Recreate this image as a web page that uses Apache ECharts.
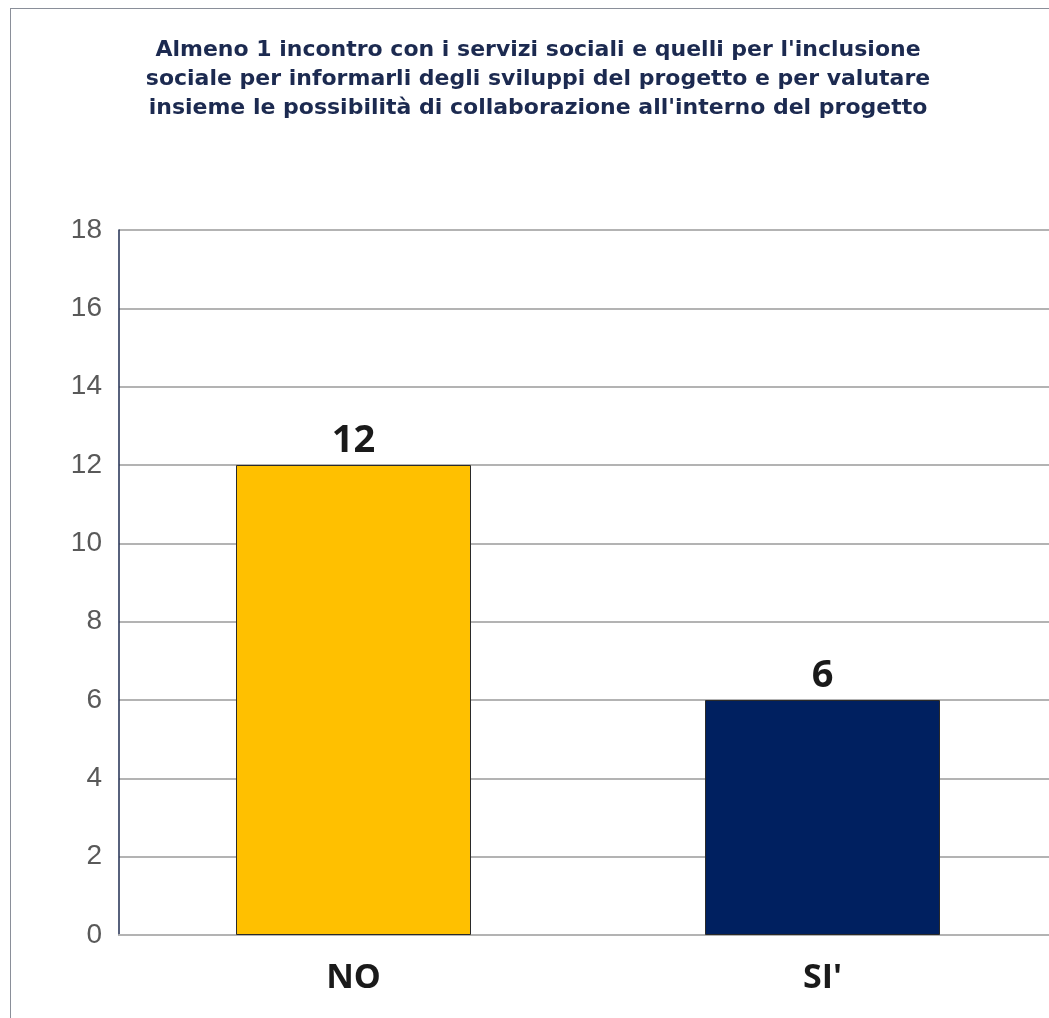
<!DOCTYPE html>
<html><head><meta charset="utf-8">
<script src="https://cdn.jsdelivr.net/npm/echarts@6/dist/echarts.min.js"></script>
<style>
html,body{margin:0;padding:0;background:#fff;width:1049px;height:1018px;overflow:hidden;}
#frame{position:absolute;left:10px;top:8px;width:1100px;height:1100px;border-left:1.5px solid #8a8f99;border-top:1.5px solid #8a8f99;}
#c{position:absolute;left:0;top:0;width:1080px;height:1018px;}
</style></head>
<body><div id="frame"></div><div id="c"></div>
<script>
const titleText = "Almeno 1 incontro con i servizi sociali e quelli per l'inclusione\nsociale per informarli degli sviluppi del progetto e per valutare\ninsieme le possibilità di collaborazione all'interno del progetto";
const categories = ["NO", "SI'"];
const values = [12, 6];
const barColors = ["#FFC000", "#002060"];
const yMin = 0, yMax = 18, yInterval = 2;

const chart = echarts.init(document.getElementById('c'), null, {renderer:'canvas'});
chart.setOption({
  backgroundColor: 'transparent',
  animation: false,
  title: {
    text: titleText,
    left: 533, top: 31, textAlign: 'center',
    textStyle: {fontFamily: 'DejaVu Sans', fontWeight: 'bold', fontSize: 22, lineHeight: 29, color: '#1c2a50'}
  },
  grid: {left: 119, top: 230, right: 23, height: 705},
  xAxis: {
    type: 'category', data: categories,
    axisLine: {show: true, lineStyle: {color: '#b3b3b3', width: 2}},
    axisTick: {show: false},
    axisLabel: {margin: 26, fontFamily: 'Open Sans', fontWeight: 'bold', fontSize: 34, color: '#1a1a1a'}
  },
  yAxis: {
    type: 'value', min: yMin, max: yMax, interval: yInterval,
    axisLine: {show: true, lineStyle: {color: '#1f2d50', width: 1.5}},
    axisTick: {show: false},
    axisLabel: {margin: 17, fontFamily: 'Liberation Sans', fontSize: 28, color: '#595959'},
    splitLine: {show: true, lineStyle: {color: '#b3b3b3', width: 2}}
  },
  series: [{
    type: 'bar',
    data: values.map((v, i) => ({value: v, itemStyle: {color: barColors[i]}})),
    barWidth: 235,
    itemStyle: {borderColor: '#2a2a2a', borderWidth: 1},
    label: {show: true, position: 'top', distance: 5, fontFamily: 'Open Sans', fontWeight: 'bold', fontSize: 38, color: '#1a1a1a'}
  }]
});
</script></body></html>
